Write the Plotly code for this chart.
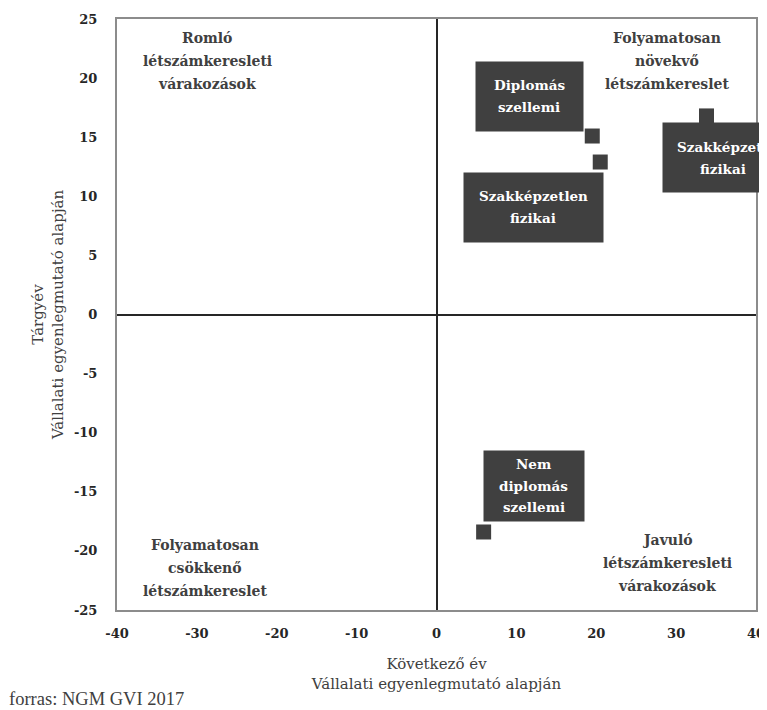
import plotly.graph_objects as go

# Data
categories = [["Diplomás", "szellemi"], ["Szakképzetlen", "fizikai"],
              ["Szakképzett", "fizikai"], ["Nem", "diplomás", "szellemi"]]
next_year = [19.5, 20.5, 33.8, 5.9]      # Következő év
current_year = [15.1, 12.9, 16.8, -18.4]  # Tárgyév
x_ticks = [-40, -30, -20, -10, 0, 10, 20, 30, 40]
y_ticks = [-25, -20, -15, -10, -5, 0, 5, 10, 15, 20, 25]

quadrants = [
    (["Romló", "létszámkeresleti", "várakozások"], 0.141, 0.929),
    (["Folyamatosan", "növekvő", "létszámkereslet"], 0.861, 0.929),
    (["Folyamatosan", "csökkenő", "létszámkereslet"], 0.138, 0.071),
    (["Javuló", "létszámkeresleti", "várakozások"], 0.861, 0.0795),
]

# label box offsets / sizes (pixels)
label_style = [
    dict(xshift=-63, yshift=40, width=107, height=69),
    dict(xshift=-67, yshift=-45, width=139, height=69),
    dict(xshift=17, yshift=-42, width=120, height=69),
    dict(xshift=50, yshift=46, width=100, height=70),
]

SERIF = "Liberation Serif"
BOLD = "DejaVu Serif"
DARK = "#404040"

fig = go.Figure()
fig.add_trace(go.Scatter(
    x=next_year, y=current_year, mode="markers",
    marker=dict(symbol="square", size=15, color=DARK),
    showlegend=False, hoverinfo="skip",
))

annotations = []
for lines, xv, yv, st in zip(categories, next_year, current_year, label_style):
    annotations.append(dict(
        x=xv, y=yv, xref="x", yref="y", text=" ", showarrow=False,
        xshift=st["xshift"], yshift=st["yshift"], width=st["width"], height=st["height"],
        bgcolor=DARK, borderpad=0, font=dict(size=4),
    ))
    n = len(lines)
    for i, ln in enumerate(lines):
        annotations.append(dict(
            x=xv, y=yv, xref="x", yref="y", text="<b>" + ln + "</b>", showarrow=False,
            xshift=st["xshift"], yshift=st["yshift"] + ((n - 1) / 2 - i) * 21.5,
            xanchor="center", yanchor="middle",
            font=dict(family=BOLD, size=13.5, color="white"),
        ))
for lines, px, py in quadrants:
    n = len(lines)
    for i, ln in enumerate(lines):
        annotations.append(dict(
            x=px, y=py, xref="paper", yref="paper", text="<b>" + ln + "</b>", showarrow=False,
            xanchor="center", yanchor="middle", yshift=((n - 1) / 2 - i) * 23,
            font=dict(family=BOLD, size=14, color="#404040"),
        ))
annotations.append(dict(
    x=-0.172, y=-0.1506, xref="paper", yref="paper", text="forras: NGM GVI 2017",
    showarrow=False, xanchor="left", yanchor="middle",
    font=dict(family=SERIF, size=18.5, color="#404040"),
))

fig.update_layout(
    width=759, height=702,
    margin=dict(l=109, r=11, t=11, b=100),
    paper_bgcolor="white", plot_bgcolor="white",
    font=dict(family=SERIF, color="#404040"),
    annotations=annotations,
)
fig.update_xaxes(
    range=[-40, 40], tickvals=x_ticks, ticktext=[str(v) for v in x_ticks], showgrid=False,
    zeroline=True, zerolinecolor="#262626", zerolinewidth=2,
    showline=True, mirror=True, linecolor="#8c8c8c", linewidth=2, automargin=False,
    ticklabelstandoff=10,
    tickfont=dict(family=BOLD, size=13, color="#262626", weight="bold"),
    title=dict(text="Következő év<br>Vállalati egyenlegmutató alapján",
               font=dict(family=BOLD, size=15, color="#404040"), standoff=19),
)
fig.update_yaxes(
    range=[-25, 25], tickvals=y_ticks, ticktext=[str(v) for v in y_ticks], showgrid=False,
    zeroline=True, zerolinecolor="#262626", zerolinewidth=2,
    showline=True, mirror=True, linecolor="#8c8c8c", linewidth=2, automargin=False,
    ticklabelstandoff=15,
    tickfont=dict(family=BOLD, size=13, color="#262626", weight="bold"),
    title=dict(text="Tárgyév<br>Vállalati egyenlegmutató alapján",
               font=dict(family=BOLD, size=15, color="#404040"), standoff=7),
)

fig.write_html("out.html")
